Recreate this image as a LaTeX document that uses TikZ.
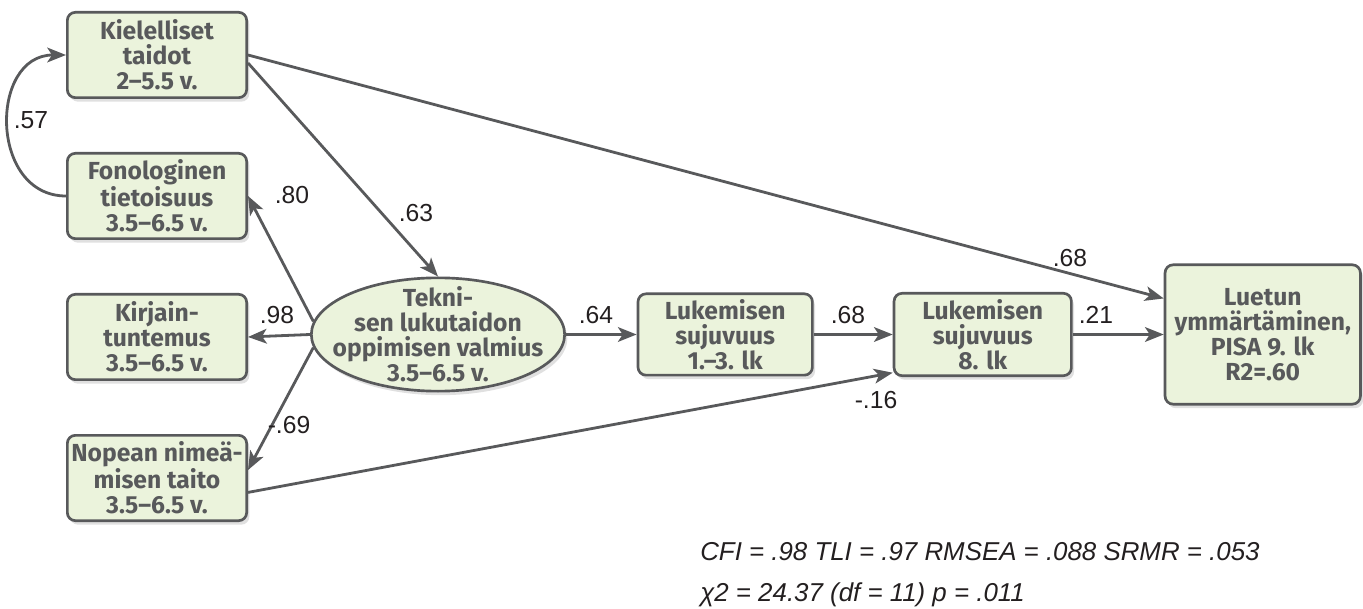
\documentclass[tikz,border=0pt]{standalone}
\usepackage{fontspec}
\setmainfont{Liberation Sans}
\newfontfamily\boxfont{Fira Sans}
\usetikzlibrary{shapes,arrows.meta,positioning,shadows}
\definecolor{boxfill}{RGB}{235,243,220}
\definecolor{boxdraw}{RGB}{88,89,91}
\definecolor{labtext}{RGB}{35,31,32}
\tikzstyle{block} = [rectangle, draw=boxdraw, line width=2pt, fill=boxfill,
rounded corners=6pt, text=boxdraw, align=center, inner sep=0pt,
font=\boxfont\bfseries\fontsize{18.5}{18.8}\selectfont,
minimum width=134.5pt, minimum height=64pt,
drop shadow={shadow xshift=2pt, shadow yshift=-3pt, opacity=.12, fill=black}]
\tikzstyle{latent} = [block, ellipse, inner sep=-30pt, minimum width=190pt, minimum height=85pt]
\tikzstyle{line} = [draw=boxdraw, line width=2.1pt,
-{Stealth[length=14pt, width=11pt, inset=3.5pt]}]
\tikzstyle{weight} = [text=labtext, inner sep=0pt, font=\fontsize{18.5}{20}\selectfont]
\tikzstyle{fitstat} = [text=labtext, inner sep=0pt, font=\itshape\fontsize{19.4}{22}\selectfont]

\begin{document}
\begin{tikzpicture}[x=0.75pt, y=-0.75pt]
	\useasboundingbox (0,0) rectangle (1363,609);
	
	% Predictors
	\node [block] (kiel) at (157,55) {Kielelliset\\taidot\\2–5.5 v.};
	\node [block, below=39.75pt of kiel] (fono) {Fonologinen\\tietoisuus\\3.5–6.5 v.};
	\node [block, below=39.75pt of fono] (kirj) {Kirjain-\\tuntemus\\3.5–6.5 v.};
	\node [block, below=39.75pt of kirj] (nop) {Nopean nimeä-\\misen taito\\3.5–6.5 v.};
	
	% Main chain
	\node [latent] (ell) at (438,334.5) {Tekni-\\sen lukutaidon\\oppimisen valmius\\3.5–6.5 v.};
	\node [block, minimum width=130.8pt, minimum height=61pt, right=53pt of ell] (luk1) {Lukemisen\\sujuvuus\\1.–3. lk};
	\node [block, minimum width=133pt, minimum height=61.8pt, right=59.25pt of luk1] (luk8) {Lukemisen\\sujuvuus\\8. lk};
	\node [block, minimum width=146.5pt, minimum height=104.5pt, right=68.25pt of luk8] (luetun) {Luetun\\ymmärtäminen,\\PISA 9. lk\\R2=.60};
	
	% Edges
	\path [line] (kiel.east) -- (luetun.160);
	\path [line] (kiel.-5) -- (ell.north);
	\path [line] (fono.west) to[out=180, in=180, looseness=1.4] (kiel.west);
	\path [line] (ell.174) -- (fono.east);
	\path [line] (ell.west) -- (kirj.east);
	\path [line] (ell.186) -- (nop.5);
	\path [line] (ell.east) -- (luk1.west);
	\path [line] (luk1.east) -- (luk8.west);
	\path [line] (luk8.east) -- (luetun.west);
	\path [line] (nop.-9) -- (luk8.203);
	
	% Path weights
	\node [weight] (w57) at (31,120) {.57};
	\node [weight] (w80) at (292,195) {.80};
	\node [weight] (w63) at (416,213) {.63};
	\node [weight] (w98) at (277,315) {.98};
	\node [weight] (w69) at (289,425) {-.69};
	\node [weight] (w64) at (596,315) {.64};
	\node [weight] (w68a) at (848,315) {.68};
	\node [weight] (w21) at (1096,315) {.21};
	\node [weight] (w68b) at (1070,258) {.68};
	\node [weight] (w16) at (876,400) {-.16};
	
	% Fit indices
	\node [fitstat, anchor=base west] (fit1) at (700,560) {CFI = .98 TLI = .97 RMSEA = .088 SRMR = .053};
	\node [fitstat, anchor=base west] (fit2) at (700,601) {χ2 = 24.37 (df = 11) p = .011};
	
\end{tikzpicture}
\end{document}
